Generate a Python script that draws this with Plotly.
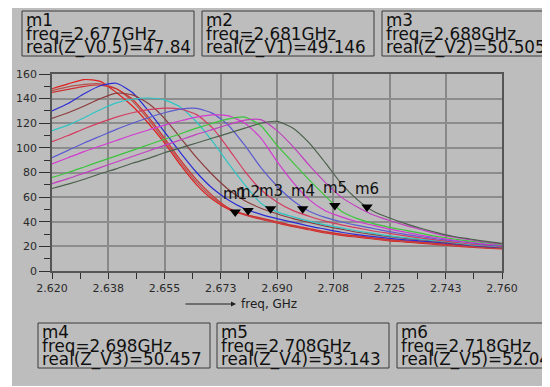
import plotly.graph_objects as go

# ---------------- data ----------------
freq = [2.620, 2.625, 2.630, 2.635, 2.640, 2.645, 2.650, 2.655, 2.660, 2.665,
        2.670, 2.675, 2.680, 2.685, 2.690, 2.695, 2.700, 2.705, 2.710, 2.715,
        2.720, 2.725, 2.730, 2.735, 2.740, 2.745, 2.750, 2.755, 2.760]

z_v0 = [148, 152, 155.5, 154, 145, 134, 120, 104, 86, 70, 58, 50, 45.5, 42, 39, 36, 33.5, 31, 29, 27.5, 26, 24.5, 23.5, 22.5, 21.5, 20.3, 19.3, 18.6, 18]
z_v025 = [146.5, 149.5, 151.5, 152, 148, 138, 123, 106, 88, 72, 59.5, 51, 46, 42.5, 39.5, 36.5, 34, 31.5, 29.5, 28, 26.5, 25, 24, 23, 22, 20.8, 19.8, 19, 18.3]
z_v05 = [145, 147.5, 150, 151, 148, 139.5, 125, 108, 90, 74, 61, 51, 46, 43, 40, 37, 34.5, 32, 30, 28.5, 27, 25.5, 24.5, 23.5, 22.5, 21.3, 20.3, 19.5, 18.7]
z_v1 = [130, 136, 144, 150.5, 152.5, 145, 130, 113, 96, 80, 67, 57.5, 50.5, 46, 42.5, 39.5, 36.5, 34, 31.5, 29.5, 28, 26.5, 25.3, 24.3, 23.3, 22, 20.8, 19.8, 19]
z_v15 = [124, 128.5, 134, 140, 144.5, 143, 136, 124, 108, 92, 78, 66, 57, 51, 46.5, 42.5, 39.5, 36.5, 34, 31.5, 29.5, 28, 26.5, 25.2, 24, 22.5, 21.2, 20.2, 19.2]
z_v2 = [114, 118.5, 124.5, 131, 136.5, 139.5, 140.5, 139, 133, 121, 105, 87, 70, 55, 48, 44, 40.5, 37.5, 35, 32.5, 30.5, 28.5, 27, 25.7, 24.5, 23, 21.5, 20.5, 19.5]
z_v25 = [105, 110, 115.5, 120.5, 125, 128.5, 131, 132.3, 131.5, 127, 116, 99, 81, 66, 56, 49, 44.5, 40.5, 37.5, 35, 32.5, 30.5, 28.5, 26.7, 25, 23.5, 22, 21, 20]
z_v3 = [92, 98, 104, 109.5, 115, 120, 124.5, 128.5, 131.5, 132, 128, 118, 102, 84, 69, 57, 48.5, 43.5, 40, 37, 34.5, 32, 29.8, 27.8, 26, 24.5, 23, 21.5, 20.5]
z_v35 = [87, 92, 97, 101.5, 106, 110.5, 114.5, 118.5, 122, 125, 126.8, 126, 120, 108, 89, 72, 58, 49, 44, 40, 37, 34, 31.5, 29, 27, 25, 23.5, 22, 21]
z_v4 = [76, 80, 84.5, 89, 93.5, 98, 102.5, 107, 111.5, 116, 120, 123.5, 125, 118, 102, 88, 74, 61, 48.5, 42.5, 38.5, 35.5, 33, 30.5, 28, 26, 24.3, 22.8, 21.5]
z_v45 = [71, 75, 79.5, 84, 88.5, 93, 97.5, 102, 106.5, 111, 115, 119, 122.5, 123, 114, 101, 86, 72, 60, 52, 45.5, 41, 37, 33.5, 30, 27.5, 25.5, 23.5, 22]
z_v5 = [67, 70.5, 74.5, 79, 83, 87.5, 91.5, 96, 100, 104, 108, 112, 116, 120, 121.5, 116, 104, 88, 71, 58, 48.5, 43, 38.5, 34.5, 31, 28, 26, 24, 22.5]

series = [z_v0, z_v025, z_v05, z_v1, z_v15, z_v2, z_v25, z_v3, z_v35, z_v4, z_v45, z_v5]
series_names = ["Z_V0", "Z_V0.25", "Z_V0.5", "Z_V1", "Z_V1.5", "Z_V2",
                "Z_V2.5", "Z_V3", "Z_V3.5", "Z_V4", "Z_V4.5", "Z_V5"]
series_colors = ["#e01e1e", "#b45450", "#d03030", "#2c2cd4", "#8c3c3c", "#30c4c4",
                 "#d43c60", "#5c5cd0", "#d23ad2", "#3cc43c", "#c040c0", "#4c604c"]

x_tickvals = [2.620, 2.6375, 2.655, 2.6725, 2.690, 2.7075, 2.725, 2.7425, 2.760]
x_ticktext = ["2.620", "2.638", "2.655", "2.673", "2.690", "2.708", "2.725", "2.743", "2.760"]
y_tickvals = [0, 20, 40, 60, 80, 100, 120, 140, 160]

marker_names = ["m1", "m2", "m3", "m4", "m5", "m6"]
marker_freq = [2.677, 2.681, 2.688, 2.698, 2.708, 2.718]
marker_val = [47.84, 49.146, 50.505, 50.457, 53.143, 52.043]
marker_val_text = ["47.84", "49.146", "50.505", "50.457", "53.143", "52.043"]
marker_series = ["V0.5", "V1", "V2", "V3", "V4", "V5"]

# ---------------- layout geometry (page pixels) ----------------
OFF = 8                                 # page body margin
W, H = 550 - OFF, 387 - OFF
PL, PR, PT, PB = 52, 502, 74, 271       # plot area edges in page px
BG = "#bdbdbd"
TXT = "#101010"


def px_x(px):
    return (px - PL) / (PR - PL)


def px_y(py):
    return (PB - py) / (PB - PT)


fig = go.Figure()

for ys, nm, col in zip(series, series_names, series_colors):
    fig.add_trace(go.Scatter(x=freq, y=ys, mode="lines", name=nm,
                             line=dict(color=col, width=1.2, shape="spline", smoothing=0.6),
                             hoverinfo="skip"))

fig.add_trace(go.Scatter(x=marker_freq, y=marker_val, mode="markers",
                         marker=dict(symbol="triangle-down", size=10, color="#000000"),
                         hoverinfo="skip", showlegend=False))

annotations = []
for nm, fx, fv in zip(marker_names, marker_freq, marker_val):
    annotations.append(dict(x=fx, y=fv, xref="x", yref="y", text=nm, showarrow=False,
                            xanchor="center", yanchor="bottom", yshift=7,
                            font=dict(family="DejaVu Sans", size=15, color=TXT)))

shapes = []
# grey panel behind everything
shapes.append(dict(type="rect", xref="paper", yref="paper", layer="below",
                   x0=px_x(12), x1=px_x(570), y0=px_y(386), y1=px_y(4),
                   fillcolor=BG, line=dict(width=0)))

# marker readout boxes
box_lefts = [22, 202, 382, 38, 217, 397]
box_tops = [11, 11, 11, 323, 323, 323]
box_w, box_h = 172, 45
for i, nm in enumerate(marker_names):
    bl, bt = box_lefts[i], box_tops[i]
    shapes.append(dict(type="rect", xref="paper", yref="paper",
                       x0=px_x(bl), x1=px_x(bl + box_w), y0=px_y(bt + box_h), y1=px_y(bt),
                       line=dict(color="#3a3a3a", width=1), fillcolor="rgba(0,0,0,0)"))
    lines = [nm, "freq=%.3fGHz" % marker_freq[i],
             "real(Z_%s)=%s" % (marker_series[i], marker_val_text[i])]
    for j, t in enumerate(lines):
        annotations.append(dict(x=px_x(bl + 2), y=px_y(bt + 9 + 13.6 * j), xref="paper", yref="paper",
                                text=t, showarrow=False, xanchor="left", yanchor="middle",
                                font=dict(family="DejaVu Sans", size=16.8, color=TXT)))

# x-axis title with arrow
annotations.append(dict(x=px_x(236), y=px_y(304), xref="paper", yref="paper", text="",
                        showarrow=True, ax=-52, ay=0, axref="pixel", ayref="pixel",
                        arrowhead=2, arrowsize=1, arrowwidth=1, arrowcolor="#202020"))
annotations.append(dict(x=px_x(239), y=px_y(304), xref="paper", yref="paper", text="freq, GHz",
                        showarrow=False, xanchor="left", yanchor="middle",
                        font=dict(family="DejaVu Sans", size=12, color="#202020")))

x_minor = [(a + b) / 2 for a, b in zip(x_tickvals[:-1], x_tickvals[1:])]

fig.update_layout(
    width=W, height=H,
    margin=dict(l=PL - OFF, r=W - (PR - OFF), t=PT - OFF, b=H - (PB - OFF), pad=0),
    paper_bgcolor="#ffffff", plot_bgcolor=BG,
    showlegend=False,
    shapes=shapes, annotations=annotations,
    xaxis=dict(range=[x_tickvals[0], x_tickvals[-1]], tickmode="array",
               tickvals=x_tickvals, ticktext=x_ticktext,
               ticks="outside", ticklen=6, tickcolor="#303030", tickwidth=1,
               showgrid=True, gridcolor="#888888", gridwidth=1.5,
               showline=True, linecolor="#555555", linewidth=1.5, mirror=True,
               zeroline=False, automargin=False,
               tickfont=dict(family="DejaVu Sans", size=11, color="#2a2a2a"),
               minor=dict(tickmode="array", tickvals=x_minor, ticks="outside",
                          ticklen=6, tickcolor="#303030", showgrid=False)),
    yaxis=dict(range=[0, 160], tickmode="array", tickvals=y_tickvals,
               ticks="outside", ticklen=11, tickcolor="#303030", tickwidth=1,
               showgrid=True, gridcolor="#8c8c8c", gridwidth=1.5,
               showline=True, linecolor="#555555", linewidth=1.5, mirror=True,
               zeroline=False, automargin=False,
               tickfont=dict(family="DejaVu Sans", size=11, color="#2a2a2a"),
               minor=dict(dtick=10, ticks="outside", ticklen=6,
                          tickcolor="#303030", showgrid=False)),
)

fig.write_html("out.html")
